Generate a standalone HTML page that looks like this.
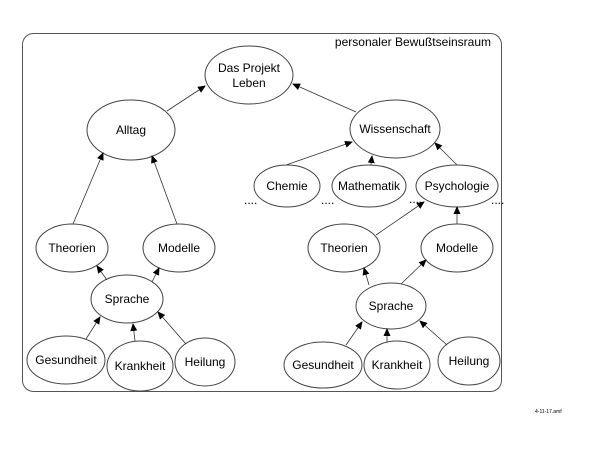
<!DOCTYPE html>
<html><head><meta charset="utf-8"><style>
html,body{margin:0;padding:0;background:#fff;width:600px;height:450px;overflow:hidden}
text{font-family:"Liberation Sans",Arial,sans-serif;font-size:12px;fill:#000}
</style></head><body>
<svg width="600" height="450" viewBox="0 0 600 450" xmlns="http://www.w3.org/2000/svg">
<defs><marker id="a" markerWidth="8" markerHeight="8" refX="7" refY="4" orient="auto" markerUnits="userSpaceOnUse"><path d="M0,0.5 L8,4 L0,7.5 z" fill="#000"/></marker></defs>
<rect x="22.5" y="33.5" width="479" height="358" rx="11" fill="none" stroke="#555" stroke-width="1"/>
<text x="491" y="46" text-anchor="end">personaler Bewußtseinsraum</text>
<g fill="#fff" stroke="#444" stroke-width="1">
<ellipse cx="249" cy="75" rx="44" ry="29"/>
<ellipse cx="131" cy="130" rx="44" ry="30"/>
<ellipse cx="395" cy="129" rx="45" ry="29"/>
<ellipse cx="287" cy="186" rx="33" ry="21"/>
<ellipse cx="369" cy="186" rx="37" ry="21"/>
<ellipse cx="457" cy="186" rx="41" ry="21"/>
<ellipse cx="72" cy="248" rx="36" ry="24"/>
<ellipse cx="179" cy="248" rx="36" ry="24"/>
<ellipse cx="127" cy="299" rx="36" ry="24"/>
<ellipse cx="66" cy="360" rx="39" ry="24"/>
<ellipse cx="140" cy="366" rx="33" ry="25"/>
<ellipse cx="205" cy="362" rx="30" ry="24"/>
<ellipse cx="344" cy="248" rx="36" ry="24"/>
<ellipse cx="457" cy="248" rx="36" ry="24"/>
<ellipse cx="391" cy="306" rx="35" ry="23"/>
<ellipse cx="323" cy="365" rx="39" ry="23"/>
<ellipse cx="397" cy="365" rx="33" ry="24"/>
<ellipse cx="469" cy="361" rx="31" ry="24"/>
</g>
<g stroke="#333" stroke-width="0.8" marker-end="url(#a)">
<line x1="167" y1="111" x2="205" y2="86"/>
<line x1="356" y1="112" x2="293" y2="84"/>
<line x1="73" y1="224" x2="103" y2="153"/>
<line x1="177" y1="224" x2="152" y2="156"/>
<line x1="286" y1="165" x2="352" y2="142"/>
<line x1="371" y1="165" x2="372" y2="156"/>
<line x1="457" y1="165" x2="435" y2="143"/>
<line x1="376" y1="235" x2="424" y2="202"/>
<line x1="457" y1="224" x2="457" y2="207"/>
<line x1="107" y1="280" x2="97" y2="266"/>
<line x1="152" y1="282" x2="159" y2="268"/>
<line x1="86" y1="339" x2="100" y2="317"/>
<line x1="135" y1="341" x2="133" y2="324"/>
<line x1="186" y1="344" x2="158" y2="312"/>
<line x1="369" y1="285" x2="364" y2="268"/>
<line x1="401" y1="284" x2="426" y2="260"/>
<line x1="346" y1="345" x2="362" y2="322"/>
<line x1="387" y1="342" x2="387" y2="329"/>
<line x1="447" y1="345" x2="420" y2="321"/>
</g>
<g text-anchor="middle">
<text x="249" y="72">Das Projekt</text><text x="249" y="87">Leben</text>
<text x="131" y="134">Alltag</text>
<text x="395" y="133">Wissenschaft</text>
<text x="287" y="190">Chemie</text>
<text x="369" y="190">Mathematik</text>
<text x="457" y="190">Psychologie</text>
<text x="72" y="252">Theorien</text>
<text x="179" y="252">Modelle</text>
<text x="127" y="303">Sprache</text>
<text x="66" y="364">Gesundheit</text>
<text x="140" y="370">Krankheit</text>
<text x="205" y="366">Heilung</text>
<text x="344" y="252">Theorien</text>
<text x="457" y="252">Modelle</text>
<text x="391" y="310">Sprache</text>
<text x="323" y="369">Gesundheit</text>
<text x="397" y="369">Krankheit</text>
<text x="469" y="365">Heilung</text>
</g>
<g style="font-size:9px">
<text x="244" y="204">....</text><text x="321" y="204">....</text>
<text x="409" y="203">....</text><text x="491" y="204">....</text>
</g>
<text x="535" y="413" style="font-size:5px">4-11-17.amf</text>
</svg>
</body></html>
